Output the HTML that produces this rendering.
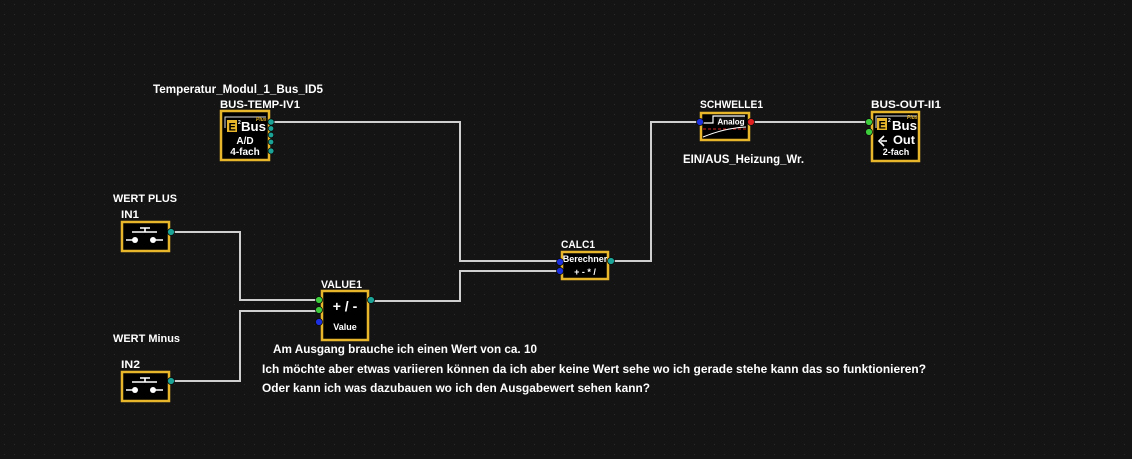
<!DOCTYPE html>
<html><head><meta charset="utf-8"><style>
html,body{margin:0;padding:0;background:#141414;}
svg{display:block;}
text{font-family:"Liberation Sans",Arial,sans-serif;font-weight:bold;fill:#fff;}
</style></head><body>
<svg width="1132" height="459" viewBox="0 0 1132 459" xmlns="http://www.w3.org/2000/svg">
<defs>
<pattern id="dots" width="10" height="10" patternUnits="userSpaceOnUse">
<rect x="4" y="4" width="1" height="1" fill="#2a2a2a"/>
</pattern>
</defs>
<rect width="1132" height="459" fill="#141414"/>
<rect width="1132" height="459" fill="url(#dots)"/>

<!-- wires -->
<g fill="none" stroke="#cfcfcf" stroke-width="2">
<path d="M271 122 H460 V261 H560"/>
<path d="M751 122 H869"/>
<path d="M610 261 H651 V122 H700"/>
<path d="M171 232 H240 V300 H319"/>
<path d="M171 381 H240 V311 H319"/>
<path d="M371 301 H460 V271 H560"/>
</g>

<!-- boxes -->
<g fill="#000" stroke="#e8b62a" stroke-width="2.5">
<rect x="221" y="111" width="48" height="49"/>
<rect x="701" y="113" width="48" height="27"/>
<rect x="872" y="112" width="47" height="49"/>
<rect x="122" y="222" width="47" height="29"/>
<rect x="322" y="291" width="46" height="49"/>
<rect x="562" y="252" width="46" height="27"/>
<rect x="122" y="372" width="47" height="29"/>
</g>

<!-- BUS-TEMP inner -->
<path d="M225 128 V117 H266" fill="none" stroke="#ddd" stroke-width="1"/>
<rect x="227" y="120" width="10" height="12" fill="#e8b62a"/>
<text x="228.5" y="130.5" font-size="11" style="fill:#000">E</text>
<text x="238" y="124" font-size="5">2</text>
<text x="241" y="131" font-size="13" textLength="25" lengthAdjust="spacingAndGlyphs">Bus</text>
<text x="256" y="121" font-size="5" font-style="italic" style="fill:#e8b62a">Plus</text>
<text x="245" y="144" font-size="10" text-anchor="middle">A/D</text>
<text x="245" y="155" font-size="10" text-anchor="middle">4-fach</text>

<!-- BUS-OUT inner -->
<path d="M876 128 V116 H917" fill="none" stroke="#ddd" stroke-width="1"/>
<rect x="877" y="118" width="10" height="12" fill="#e8b62a"/>
<text x="878.5" y="128.5" font-size="11" style="fill:#000">E</text>
<text x="888" y="122" font-size="5">2</text>
<text x="892" y="130" font-size="13" textLength="25" lengthAdjust="spacingAndGlyphs">Bus</text>
<text x="907" y="119" font-size="5" font-style="italic" style="fill:#e8b62a">Plus</text>
<path d="M884 136 L879 141 L884 146 M881 141 H887" fill="none" stroke="#fff" stroke-width="1.6"/>
<text x="893" y="144" font-size="12" textLength="22" lengthAdjust="spacingAndGlyphs">Out</text>
<text x="896" y="155" font-size="9" text-anchor="middle">2-fach</text>

<!-- SCHWELLE inner -->
<path d="M703 123 H713 V116 H745" fill="none" stroke="#fff" stroke-width="1.2"/>
<rect x="717" y="117" width="28" height="8" fill="#111"/>
<text x="731" y="124.5" font-size="8" text-anchor="middle">Analog</text>
<path d="M703 129 H746" fill="none" stroke="#d02020" stroke-width="1" stroke-dasharray="3,2"/>
<path d="M703 137 Q725 128 746 127" fill="none" stroke="#fff" stroke-width="1"/>

<!-- IN1 pushbutton -->
<g stroke="#fff" stroke-width="1.6" fill="none">
<path d="M140 228 H150 M145 228 V232 M132 232 H157"/>
<path d="M126 240 H135 M153 240 H163"/>
</g>
<circle cx="135" cy="240" r="3" fill="#fff"/>
<circle cx="153" cy="240" r="3" fill="#fff"/>

<!-- IN2 pushbutton -->
<g stroke="#fff" stroke-width="1.6" fill="none">
<path d="M140 378 H150 M145 378 V382 M132 382 H157"/>
<path d="M126 390 H135 M153 390 H163"/>
</g>
<circle cx="135" cy="390" r="3" fill="#fff"/>
<circle cx="153" cy="390" r="3" fill="#fff"/>

<!-- VALUE1 inner -->
<text x="345" y="311" font-size="14" text-anchor="middle">+ / -</text>
<text x="345" y="330" font-size="9" text-anchor="middle">Value</text>

<!-- CALC1 inner -->
<text x="585" y="262" font-size="9" text-anchor="middle">Berechner</text>
<text x="585" y="275" font-size="9" text-anchor="middle">+ - * /</text>

<!-- ports -->
<g stroke="#0a0a0a" stroke-width="0.8">
<circle cx="271" cy="122" r="3.2" fill="#1aa396"/>
<circle cx="271" cy="128.5" r="2.8" fill="#1aa396"/>
<circle cx="271" cy="135" r="2.8" fill="#1aa396"/>
<circle cx="271" cy="142" r="2.8" fill="#1aa396"/>
<circle cx="271" cy="151" r="3" fill="#1aa396"/>
<circle cx="700" cy="122" r="3.5" fill="#1c30e0"/>
<circle cx="751" cy="122" r="3.5" fill="#e02020"/>
<circle cx="869" cy="122" r="3.5" fill="#3ccc3c"/>
<circle cx="869" cy="132" r="3.5" fill="#3ccc3c"/>
<circle cx="171" cy="232" r="3.5" fill="#1aa396"/>
<circle cx="171" cy="381" r="3.5" fill="#1aa396"/>
<circle cx="319" cy="300" r="3.5" fill="#3ccc3c"/>
<circle cx="319" cy="310" r="3.5" fill="#3ccc3c"/>
<circle cx="319" cy="322" r="3.5" fill="#1c30e0"/>
<circle cx="371" cy="300" r="3.5" fill="#1aa396"/>
<circle cx="560" cy="262" r="3.5" fill="#1c30e0"/>
<circle cx="560" cy="271" r="3.5" fill="#1c30e0"/>
<circle cx="611" cy="261" r="3.5" fill="#1aa396"/>
</g>

<!-- labels -->
<text x="153" y="93" font-size="12" textLength="170" lengthAdjust="spacingAndGlyphs">Temperatur_Modul_1_Bus_ID5</text>
<text x="220" y="108" font-size="11" textLength="80" lengthAdjust="spacingAndGlyphs">BUS-TEMP-IV1</text>
<text x="700" y="108" font-size="11" textLength="63" lengthAdjust="spacingAndGlyphs">SCHWELLE1</text>
<text x="871" y="108" font-size="11" textLength="70" lengthAdjust="spacingAndGlyphs">BUS-OUT-II1</text>
<text x="683" y="163" font-size="12" textLength="121" lengthAdjust="spacingAndGlyphs">EIN/AUS_Heizung_Wr.</text>
<text x="113" y="202" font-size="11" textLength="64" lengthAdjust="spacingAndGlyphs">WERT PLUS</text>
<text x="121" y="218" font-size="11" textLength="18" lengthAdjust="spacingAndGlyphs">IN1</text>
<text x="113" y="342" font-size="11" textLength="67" lengthAdjust="spacingAndGlyphs">WERT Minus</text>
<text x="121" y="368" font-size="11" textLength="19" lengthAdjust="spacingAndGlyphs">IN2</text>
<text x="321" y="288" font-size="11" textLength="41" lengthAdjust="spacingAndGlyphs">VALUE1</text>
<text x="561" y="248" font-size="11" textLength="34" lengthAdjust="spacingAndGlyphs">CALC1</text>

<text x="273" y="353" font-size="12" textLength="264" lengthAdjust="spacingAndGlyphs">Am Ausgang brauche ich einen Wert von ca. 10</text>
<text x="262" y="373" font-size="12" textLength="664" lengthAdjust="spacingAndGlyphs">Ich möchte aber etwas variieren können da ich aber keine Wert sehe wo ich gerade stehe kann das so funktionieren?</text>
<text x="262" y="392" font-size="12" textLength="388" lengthAdjust="spacingAndGlyphs">Oder kann ich was dazubauen wo ich den Ausgabewert sehen kann?</text>
</svg>
</body></html>
